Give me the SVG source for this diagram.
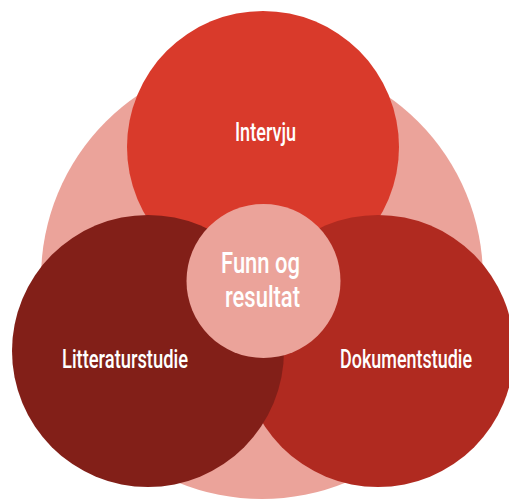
<svg xmlns="http://www.w3.org/2000/svg" width="509" height="500" viewBox="0 0 509 500">
<style>
.lbl{font-family:"Roboto","Liberation Sans",sans-serif;font-weight:500;fill:#ffffff;}
</style>
<rect width="509" height="500" fill="#ffffff"/>
<g id="outer"><circle cx="262" cy="278" r="221" fill="#EBA39A"/></g>
<g id="intervju">
<circle cx="263" cy="147" r="136" fill="#D93A2B"/>
<text class="lbl" x="235" y="141" font-size="25" textLength="61" lengthAdjust="spacingAndGlyphs">Intervju</text>
</g>
<g id="dokumentstudie">
<circle cx="378" cy="351" r="136" fill="#B02A20"/>
<text class="lbl" x="340" y="368" font-size="25" textLength="132" lengthAdjust="spacingAndGlyphs">Dokumentstudie</text>
</g>
<g id="litteraturstudie">
<circle cx="148" cy="351" r="136" fill="#821F18"/>
<text class="lbl" x="62" y="368" font-size="25" textLength="126" lengthAdjust="spacingAndGlyphs">Litteraturstudie</text>
</g>
<g id="funn">
<circle cx="263.5" cy="281" r="77" fill="#EBA39A"/>
<text class="lbl" x="221" y="273" font-size="29" textLength="79" lengthAdjust="spacingAndGlyphs">Funn og</text>
<text class="lbl" x="225" y="307" font-size="29" textLength="75" lengthAdjust="spacingAndGlyphs">resultat</text>
</g>
<g id="connectors"></g>
</svg>
